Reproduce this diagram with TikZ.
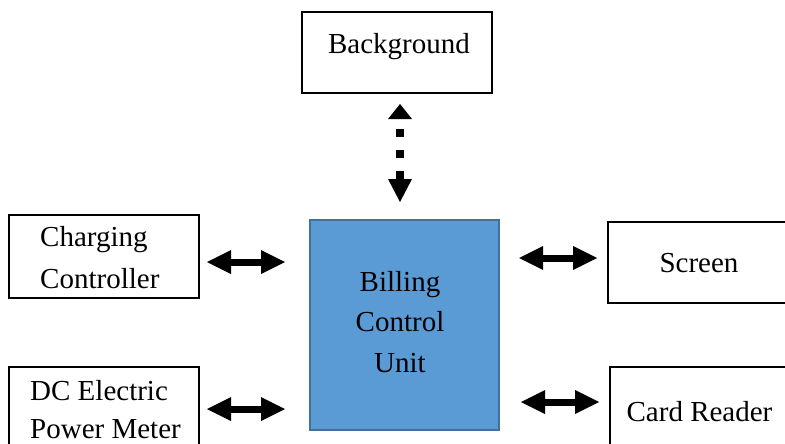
\documentclass[tikz,border=0pt]{standalone}
\usepackage{fontspec}
\setmainfont{Liberation Serif}
\usetikzlibrary{arrows.meta,calc}
\definecolor{bcufill}{HTML}{5B9BD5}
\definecolor{bcuedge}{HTML}{41719C}
\begin{document}
\begin{tikzpicture}[x=1pt,y=-1pt,
  box/.style={draw=black,line width=2pt,rectangle,inner sep=0pt},
  txt/.style={inner sep=0pt,font=\fontsize{29}{41}\selectfont},
  dbl/.style={line width=7pt,{Triangle[width=24pt,length=24pt,line width=0pt]}-{Triangle[width=24pt,length=24pt,line width=0pt]}},
  dotarrow/.style={line width=8pt,dash pattern=on 8pt off 13pt,dash phase=11pt,
    {Triangle[width=24pt,length=15pt,line width=0pt]}-{Triangle[width=24pt,length=23pt,line width=0pt]}}
]
\useasboundingbox (0,0) rectangle (785,444);
\clip (0,0) rectangle (785,444);
% boxes
\node[box,minimum width=190pt,minimum height=81pt] (bg) at (397,52.5) {};
\node[box,draw=bcuedge,fill=bcufill,minimum width=189pt,minimum height=210pt] (bcu) at (404.5,325) {};
\node[box,minimum width=190pt,minimum height=83pt] (cc) at (104,256.5) {};
\node[box,minimum width=190pt,minimum height=86pt] (dc) at (104,410) {};
\node[box,minimum width=180pt,minimum height=81pt] (scr) at (698,262.5) {};
\node[box,minimum width=180pt,minimum height=86pt] (card) at (700,410) {};
% texts
\node[txt,anchor=base] (bgT) at (399,54) {Background};
\node[txt,anchor=base] (bcuT1) at (400,291) {Billing};
\node[txt,anchor=base] (bcuT2) at (400,331) {Control};
\node[txt,anchor=base] (bcuT3) at (400,372) {Unit};
\node[txt,anchor=base west] (ccT1) at (40,246) {Charging};
\node[txt,anchor=base west] (ccT2) at (40,288) {Controller};
\node[txt,anchor=base west] (dcT1) at (30,400) {DC Electric};
\node[txt,anchor=base west] (dcT2) at (30,438) {Power Meter};
\node[txt,anchor=base] (scrT) at (699,272) {Screen};
\node[txt,anchor=base] (cardT) at (699.5,421) {Card Reader};
% connectors
\draw[dotarrow,shorten <=10pt,shorten >=17pt] ([xshift=3pt]bg.south) -- ([xshift=3pt]bg.south |- bcu.north);
\draw[dbl,shorten <=7pt,shorten >=24pt] ([yshift=-5.5pt]cc.east) -- ([yshift=-5.5pt]cc.east -| bcu.west);
\draw[dbl,shorten <=7pt,shorten >=24pt] ([yshift=1pt]dc.east) -- ([yshift=1pt]dc.east -| bcu.west);
\draw[dbl,shorten <=19pt,shorten >=10pt] ([yshift=4.5pt]bcu.east |- scr.west) -- ([yshift=4.5pt]scr.west);
\draw[dbl,shorten <=21pt,shorten >=10pt] ([yshift=8pt]bcu.east |- card.west) -- ([yshift=8pt]card.west);
\end{tikzpicture}
\end{document}
